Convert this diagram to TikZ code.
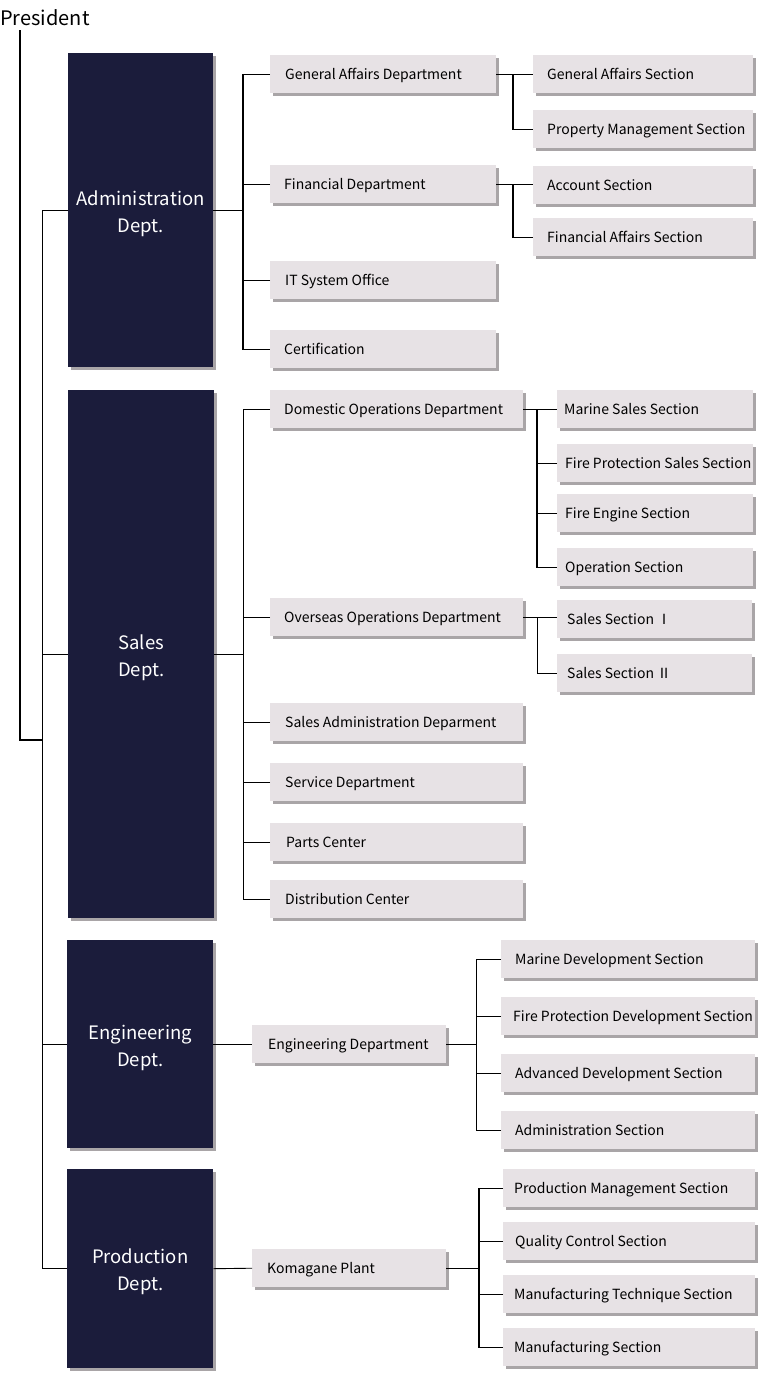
\documentclass[tikz,border=0pt]{standalone}
\usepackage{fontspec}
\newfontfamily\jp{Noto Sans CJK JP}
\usetikzlibrary{shadows}
\definecolor{navy}{HTML}{1B1C3B}
\definecolor{boxfill}{HTML}{E7E2E5}
\definecolor{shadowc}{HTML}{A9A5A7}
\tikzset{
  shd/.style={drop shadow={shadow xshift=2.5pt, shadow yshift=-2.5pt, fill=shadowc, opacity=1}},
  lbox/.style={shd, fill=boxfill, anchor=north west, minimum height=38pt, inner ysep=0pt,
    font=\jp\fontsize{14}{17}\selectfont, text=black, text height=14pt, text depth=3pt},
  dbox/.style={shd, fill=navy, anchor=north west, inner sep=0pt, align=center,
    font=\jp\fontsize{18.5}{27}\selectfont, text=white, text height=47pt, text depth=3pt},
  thk/.style={line width=1.4pt},
  thn/.style={line width=0.9pt},
}
\newcommand\lb[6]{\pgfmathsetmacro\tw{#4-2*#5}%
  \node[lbox, inner xsep=#5pt] (#1) at (#2,#3) {\makebox[\tw pt][l]{#6}};}
\newcommand\db[6]{\node[dbox, minimum width=#4pt, minimum height=#5pt] (#1) at (#2,#3) {#6};}
\begin{document}
\begin{tikzpicture}[x=1pt,y=-1pt]
\useasboundingbox (0,0) rectangle (760,1400);
% President
\node[anchor=base west, inner sep=0pt, font=\jp\fontsize{20}{24}\selectfont] (pres) at (0,25) {President};
% department boxes
\db{adm}{68}{53}{145}{314}{Administration\\Dept.}
\db{sal}{68}{390}{146}{528}{Sales\\Dept.}
\db{eng}{67}{940}{146}{208}{Engineering\\Dept.}
\db{prd}{67}{1169}{146}{199}{Production\\Dept.}
% admin level 2
\lb{ga}{270}{55}{226}{15}{General Affairs Department}
\lb{fin}{270}{165}{226}{14}{Financial Department}
\lb{it}{270}{261}{226}{15}{IT System Office}
\lb{cert}{270}{330}{226}{14}{Certification}
% admin sections
\lb{gas}{533}{55}{220}{14}{General Affairs Section}
\lb{pms}{533}{110}{220}{14}{Property Management Section}
\lb{acc}{533}{166}{220}{14}{Account Section}
\lb{fas}{533}{218}{220}{14}{Financial Affairs Section}
% sales level 2
\lb{dom}{270}{390}{253}{14}{Domestic Operations Department}
\lb{ovs}{270}{598}{253}{14}{Overseas Operations Department}
\lb{sad}{270}{703}{253}{15}{Sales Administration Deparment}
\lb{srv}{270}{763}{253}{15}{Service Department}
\lb{prt}{270}{823}{253}{16}{Parts Center}
\lb{dst}{270}{880}{253}{15}{Distribution Center}
% sales sections
\lb{mss}{557}{390}{196}{7}{Marine Sales Section}
\lb{fps}{557}{444}{196}{8}{Fire Protection Sales Section}
\lb{fes}{557}{494}{196}{8}{Fire Engine Section}
\lb{ops}{557}{548}{196}{8}{Operation Section}
\lb{ssa}{557}{600}{195}{10}{Sales Section Ⅰ}
\lb{ssb}{557}{654}{195}{10}{Sales Section Ⅱ}
% engineering
\lb{engd}{252}{1025}{194}{16}{Engineering Department}
\lb{mds}{501}{940}{254}{14}{Marine Development Section}
\lb{fpd}{501}{997}{254}{12}{Fire Protection Development Section}
\lb{ads}{501}{1054}{254}{14}{Advanced Development Section}
\lb{ams}{501}{1111}{254}{14}{Administration Section}
% production
\lb{kp}{252}{1249}{194}{15}{Komagane Plant}
\lb{pmg}{503}{1169}{252}{11}{Production Management Section}
\lb{qcs}{503}{1222}{252}{12}{Quality Control Section}
\lb{mts}{503}{1275}{252}{11}{Manufacturing Technique Section}
\lb{mfs}{503}{1328}{252}{11}{Manufacturing Section}
% bus coordinates
\coordinate (pB) at (20,0);
\coordinate (tB) at (42,740);
\coordinate (tr) at (42,0);
\coordinate (aB) at (243,0);
\coordinate (gB) at (513,0);
\coordinate (dB) at (537,0);
\coordinate (eB) at (476,0);
\coordinate (kB) at (479,0);
% president line
\draw[thk] (pres.base -| pB) ++(0,5) coordinate (p0) -- (p0 |- tB) -- (tB);
% trunk
\draw[thn] (adm.west) -- (adm.west -| tr) -- (prd.west -| tr) -- (prd.west);
\draw[thn] (sal.west) -- (sal.west -| tr);
\draw[thn] (eng.west) -- (eng.west -| tr);
% admin
\draw[thn] (adm.east) -- (adm.east -| aB);
\draw[thk] (ga.west) -- (ga.west -| aB) -- (cert.west -| aB) -- (cert.west);
\draw[thk] (fin.west) -- (fin.west -| aB);
\draw[thk] (it.west) -- (it.west -| aB);
\draw[thk] (ga.east) -- (gas.west);
\draw[thk] (ga.east -| gB) -- (pms.west -| gB) -- (pms.west);
\draw[thk] (fin.east) -- (fin.east -| acc.west);
\draw[thk] (fin.east -| gB) -- (fas.west -| gB) -- (fas.west);
% sales
\draw[thn] (sal.east) -- (sal.east -| aB);
\draw[thn] (dom.west) -- (dom.west -| aB) -- (dst.west -| aB) -- (dst.west);
\foreach \n in {ovs,sad,srv,prt} \draw[thn] (\n.west) -- (\n.west -| aB);
\draw[thk] (dom.east) -- (mss.west);
\draw[thk] (dom.east -| dB) -- (ops.west -| dB) -- (ops.west);
\draw[thk] (fps.west) -- (fps.west -| dB);
\draw[thk] (fes.west) -- (fes.west -| dB);
\draw[thn] (ovs.east) -- (ovs.east -| ssa.west);
\draw[thn] (ovs.east -| dB) -- (ssb.west -| dB) -- (ssb.west);
% engineering
\draw[thn] (eng.east) -- (engd.west);
\draw[thn] (engd.east) -- (engd.east -| eB);
\draw[thn] (mds.west) -- (mds.west -| eB) -- (ams.west -| eB) -- (ams.west);
\draw[thn] (fpd.west) -- (fpd.west -| eB);
\draw[thn] (ads.west) -- (ads.west -| eB);
% production
\draw[thn] (prd.east) -- (kp.west);
\draw[thn] (kp.east) -- (kp.east -| kB);
\draw[thk] (pmg.west) -- (pmg.west -| kB) -- (mfs.west -| kB) -- (mfs.west);
\draw[thn] (qcs.west) -- (qcs.west -| kB);
\draw[thn] (mts.west) -- (mts.west -| kB);
\end{tikzpicture}
\end{document}
